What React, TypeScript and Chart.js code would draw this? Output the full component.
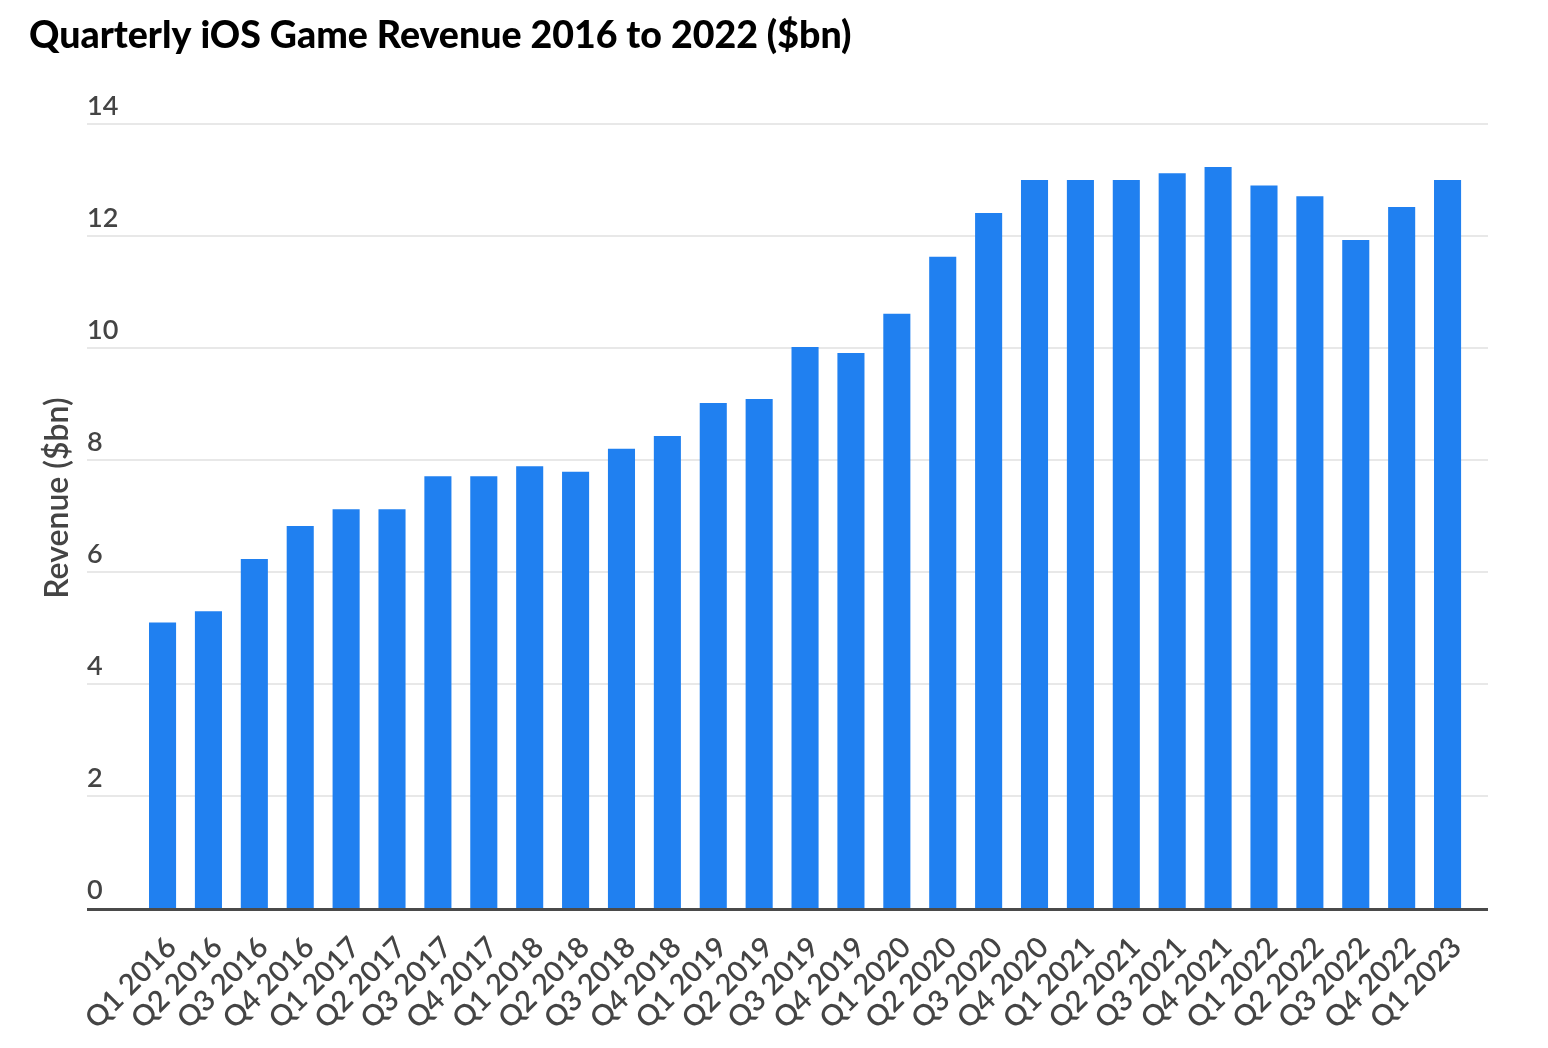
import React, { useEffect, useRef } from "react";
import { Chart, registerables } from "chart.js";

Chart.register(...registerables);

const TITLE = "Quarterly iOS Game Revenue 2016 to 2022 ($bn)";
const Y_TITLE = "Revenue ($bn)";
const categories = [
  "Q1 2016", "Q2 2016", "Q3 2016", "Q4 2016",
  "Q1 2017", "Q2 2017", "Q3 2017", "Q4 2017",
  "Q1 2018", "Q2 2018", "Q3 2018", "Q4 2018",
  "Q1 2019", "Q2 2019", "Q3 2019", "Q4 2019",
  "Q1 2020", "Q2 2020", "Q3 2020", "Q4 2020",
  "Q1 2021", "Q2 2021", "Q3 2021", "Q4 2021",
  "Q1 2022", "Q2 2022", "Q3 2022", "Q4 2022",
  "Q1 2023",
];
const revenue = [
  5.1, 5.3, 6.23, 6.82,
  7.12, 7.12, 7.71, 7.71,
  7.89, 7.79, 8.2, 8.43,
  9.02, 9.09, 10.02, 9.91,
  10.61, 11.63, 12.41, 13.0,
  13.0, 13.0, 13.12, 13.23,
  12.9, 12.71, 11.93, 12.52,
  13.0,
];
const yTicks = [0, 2, 4, 6, 8, 10, 12, 14];

const TEXT = "#444444";
const FONT = "Lato, 'Open Sans', sans-serif";

const decorPlugin = {
  id: "decor",
  beforeDatasetsDraw(chart: any) {
    const { ctx, scales } = chart;
    const y = scales.y;
    const gridLeft = 87;
    const gridRight = 1488;
    ctx.save();
    // gridlines
    ctx.strokeStyle = "#e8e8e8";
    ctx.lineWidth = 2;
    yTicks.forEach((v) => {
      if (v === 0) return;
      const py = Math.round(y.getPixelForValue(v));
      ctx.beginPath();
      ctx.moveTo(gridLeft, py);
      ctx.lineTo(gridRight, py);
      ctx.stroke();
    });
    // y tick labels
    ctx.fillStyle = TEXT;
    ctx.font = `600 27px ${FONT}`;
    ctx.textAlign = "left";
    ctx.textBaseline = "alphabetic";
    yTicks.forEach((v) => {
      const py = y.getPixelForValue(v);
      ctx.fillText(String(v), gridLeft, py - 9);
    });
    // y title
    ctx.save();
    ctx.translate(68, (y.top + y.bottom) / 2 - 18);
    ctx.rotate(-Math.PI / 2);
    ctx.textAlign = "center";
    ctx.textBaseline = "alphabetic";
    ctx.font = `600 32px ${FONT}`;
    ctx.fillText(Y_TITLE, 0, 0);
    ctx.restore();
    // chart title
    ctx.fillStyle = "#000000";
    ctx.font = `900 37.5px ${FONT}`;
    ctx.textAlign = "left";
    ctx.textBaseline = "alphabetic";
    ctx.fillText(TITLE, 29, 48);
    ctx.restore();
  },
  afterDatasetsDraw(chart: any) {
    const { ctx, scales } = chart;
    const x = scales.x;
    const y = scales.y;
    ctx.save();
    // axis line
    ctx.strokeStyle = "#4a4a4a";
    ctx.lineWidth = 3;
    const py = y.getPixelForValue(0) + 1.5;
    ctx.beginPath();
    ctx.moveTo(87, py);
    ctx.lineTo(1488, py);
    ctx.stroke();
    // x labels
    ctx.fillStyle = TEXT;
    ctx.font = `600 29px ${FONT}`;
    ctx.textAlign = "right";
    ctx.textBaseline = "middle";
    categories.forEach((c, i) => {
      const px = x.getPixelForValue(i);
      ctx.save();
      ctx.translate(px + 9, py + 33);
      ctx.rotate(-Math.PI / 4);
      ctx.fillText(c, 0, 0);
      ctx.restore();
    });
    ctx.restore();
  },
};

export default function App() {
  const ref = useRef<HTMLCanvasElement | null>(null);
  useEffect(() => {
    if (!ref.current) return;
    const chart = new Chart(ref.current, {
      type: "bar",
      data: {
        labels: categories,
        datasets: [
          {
            label: "Revenue",
            data: revenue,
            backgroundColor: "#2080F0",
            borderWidth: 0,
            categoryPercentage: 1,
            barPercentage: 0.59,
          },
        ],
      },
      options: {
        animation: false,
        responsive: true,
        maintainAspectRatio: false,
        layout: { padding: { left: 139.6, right: 77.5, top: 124, bottom: 140 } },
        plugins: { legend: { display: false }, tooltip: { enabled: false }, title: { display: false } },
        scales: {
          x: { display: false },
          y: { display: false, min: 0, max: 14 },
        },
      },
      plugins: [decorPlugin],
    });
    return () => chart.destroy();
  }, []);
  return (
    <div style={{ position: "fixed", left: 0, top: 0, width: 1548, height: 1048, background: "#fff" }}>
      <canvas ref={ref} />
    </div>
  );
}
